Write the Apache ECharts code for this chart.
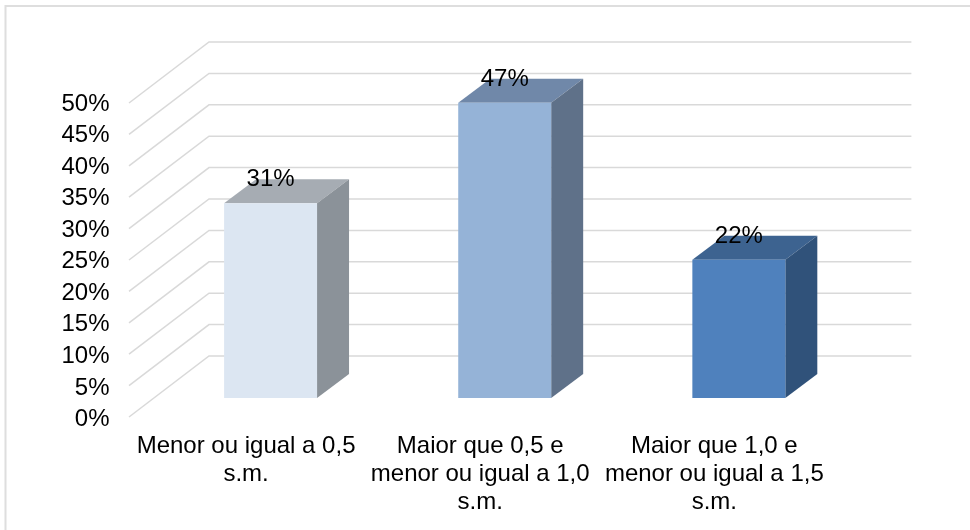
<!DOCTYPE html>
<html><head><meta charset="utf-8">
<style>html,body{margin:0;padding:0;background:#fff}#c{width:970px;height:530px}</style>
<script src="https://cdn.jsdelivr.net/npm/echarts@6/dist/echarts.min.js"></script>
</head><body><div id="c"></div>
<script>
var categories = ['Menor ou igual a 0,5\ns.m.', 'Maior que 0,5 e\nmenor ou igual a 1,0\ns.m.', 'Maior que 1,0 e\nmenor ou igual a 1,5\ns.m.'];
var values = [31, 47, 22];
var ticks = [0, 5, 10, 15, 20, 25, 30, 35, 40, 45, 50];
var frontColors = ['#dce6f2', '#95b3d7', '#4f81bd'];
var topColors = ['#a6acb3', '#7088a9', '#3d6390'];
var sideColors = ['#8b9299', '#5f7189', '#30527a'];

var FONT = '"Liberation Sans", Arial, sans-serif';
var FS = 24;
var wallDX = 80, wallDY = -61;      // depth of the floor
var barDX = 24.5, barDY = -19;      // bar inset from front plane
var depthDX = 32, depthDY = -24;    // bar depth
var GRID = '#d9d9d9';

function renderGrid(params, api) {
  var p = api.coord([0, api.value(0)]);
  var cs = params.coordSys;
  var x0 = cs.x, y = p[1];
  return {
    type: 'polyline',
    silent: true,
    shape: { points: [[x0, y], [x0 + wallDX, y + wallDY], [x0 + wallDX + cs.width, y + wallDY]] },
    style: { stroke: GRID, lineWidth: 1.5, fill: 'none' }
  };
}
function renderBar(params, api) {
  var i = api.value(0), v = api.value(1);
  var c = api.coord([i, v]), b = api.coord([i, 0]);
  var w = api.size([1, 0])[0] * 0.397;
  var l = c[0] + barDX - w / 2, r = l + w;
  var t = c[1] + barDY, bt = b[1] + barDY;
  var dx = depthDX, dy = depthDY;
  return {
    type: 'group',
    children: [
      { type: 'polygon', shape: { points: [[l, t], [r, t], [r + dx, t + dy], [l + dx, t + dy]] }, style: { fill: topColors[i] } },
      { type: 'polygon', shape: { points: [[r, t], [r + dx, t + dy], [r + dx, bt + dy], [r, bt]] }, style: { fill: sideColors[i] } },
      { type: 'rect', shape: { x: l, y: t, width: w, height: bt - t }, style: { fill: frontColors[i] } },
      { type: 'text', style: { x: (l + r) / 2, y: t - 23.5, text: v + '%', fill: '#000', font: FS + 'px ' + FONT, align: 'center', verticalAlign: 'middle' } }
    ]
  };
}
var chart = echarts.init(document.getElementById('c'), null, { renderer: 'canvas' });
var hiddenParts = { axisLine: { show: false }, axisTick: { show: false }, splitLine: { show: false } };
chart.setOption({
  animation: false,
  backgroundColor: '#fff',
  graphic: [{ type: 'polyline', silent: true, z: -1, shape: { points: [[5.5, 530], [5.5, 6], [970, 6]] }, style: { fill: 'none', stroke: '#dedede', lineWidth: 2 } }],
  grid: [
    { left: 129, width: 702.4, top: 103, height: 314 },
    { left: 129, width: 702.4, top: 104, height: 315.5 }   // carries the value-axis labels, set slightly lower than the floor plane
  ],
  xAxis: [
    Object.assign({
      type: 'category', data: categories, gridIndex: 0,
      axisLabel: { interval: 0, color: '#000', fontFamily: FONT, fontSize: FS, lineHeight: 28, margin: 15, verticalAlign: 'top' }
    }, hiddenParts),
    Object.assign({ type: 'category', data: categories, gridIndex: 1, axisLabel: { show: false } }, hiddenParts)
  ],
  yAxis: [
    Object.assign({ type: 'value', min: 0, max: 50, interval: 5, gridIndex: 0, axisLabel: { show: false } }, hiddenParts),
    Object.assign({
      type: 'value', min: 0, max: 50, interval: 5, gridIndex: 1,
      axisLabel: { color: '#000', fontFamily: FONT, fontSize: FS, margin: 19.5, formatter: '{value}%' }
    }, hiddenParts)
  ],
  series: [
    { type: 'custom', renderItem: renderGrid, encode: { y: 0 }, data: ticks.map(function (t) { return [t]; }), z: 1, silent: true },
    { type: 'custom', renderItem: renderBar, encode: { x: 0, y: 1 }, data: values.map(function (v, i) { return [i, v]; }), z: 2, silent: true }
  ]
});
</script></body></html>
